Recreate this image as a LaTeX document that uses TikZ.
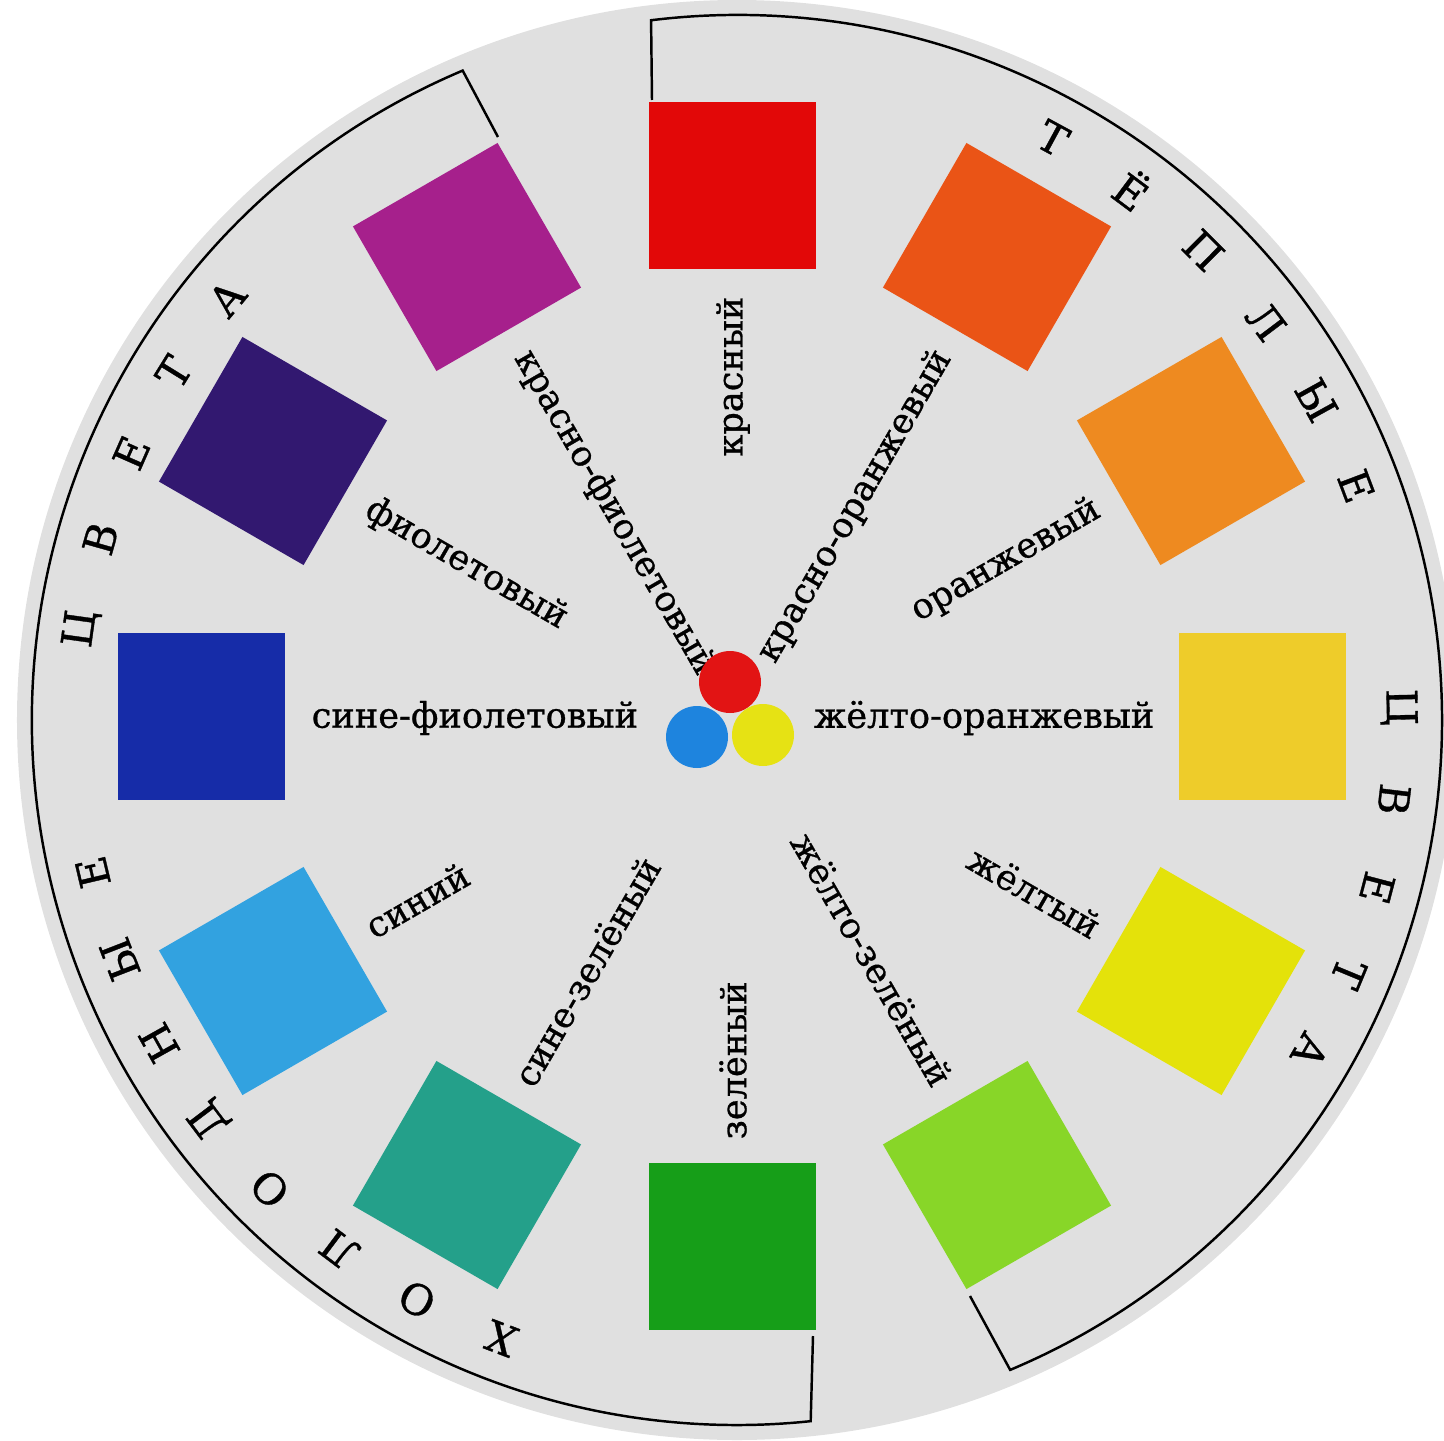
\documentclass[tikz,border=0pt]{standalone}
\usepackage{fontspec}
\setmainfont{DejaVu Serif}
\newfontfamily\heavyserif{DejaVu Serif}[FakeBold=0.8]
\usepackage{xcolor}

\definecolor{disk}{RGB}{224,224,224}
\definecolor{cRed}{RGB}{226,8,8}
\definecolor{cRedOrange}{RGB}{234,84,22}
\definecolor{cOrange}{RGB}{238,138,32}
\definecolor{cYellowOrange}{RGB}{238,204,42}
\definecolor{cYellow}{RGB}{228,226,10}
\definecolor{cYellowGreen}{RGB}{136,214,40}
\definecolor{cGreen}{RGB}{22,158,24}
\definecolor{cBlueGreen}{RGB}{36,160,138}
\definecolor{cBlue}{RGB}{50,162,224}
\definecolor{cBlueViolet}{RGB}{22,44,168}
\definecolor{cViolet}{RGB}{50,24,112}
\definecolor{cRedViolet}{RGB}{166,32,140}
\definecolor{dotRed}{RGB}{226,20,20}
\definecolor{dotBlue}{RGB}{30,132,222}
\definecolor{dotYellow}{RGB}{230,226,20}

\newcommand\labfont{\heavyserif\fontsize{10}{12}\selectfont}
\newcommand\ringfont{\heavyserif\fontsize{12}{14}\selectfont}

\begin{document}
\begin{tikzpicture}[
  swatch/.style={minimum size=1.67cm, inner sep=0pt, outer sep=0pt, rotate=#1},
  lab/.style={font=\labfont, inner sep=0pt},
  ring/.style={font=\ringfont, inner sep=0pt, rotate=#1-90},
  dot/.style={circle, minimum size=0.62cm, inner sep=0pt},
  bracket/.style={line width=0.7pt}
]
\useasboundingbox (-7.37,-7.20) rectangle (7.07,7.20);
\fill[disk] (0,0) circle (7.20);

% brackets
\draw[bracket] (-0.85,6.20) -- (97:7.05) arc[start angle=97, end angle=-67.2, radius=7.05] -- (2.33,-5.76);
\draw[bracket] (-2.39,5.83) -- (112.9:7.05) arc[start angle=112.9, end angle=276, radius=7.05] -- (0.76,-6.16);

% colour squares
\begin{scope}[shift={(-0.05,0.04)}]
\node[swatch=0, fill=cRed] (sqred) at (90:5.30) {};
\node[swatch=60, fill=cRedOrange] (sqredorange) at (60:5.30) {};
\node[swatch=30, fill=cOrange] (sqorange) at (30:5.30) {};
\node[swatch=0, fill=cYellowOrange] (sqyelloworange) at (0:5.30) {};
\node[swatch=-30, fill=cYellow] (sqyellow) at (-30:5.30) {};
\node[swatch=-60, fill=cYellowGreen] (sqyellowgreen) at (-60:5.30) {};
\node[swatch=0, fill=cGreen] (sqgreen) at (-90:5.30) {};
\node[swatch=60, fill=cBlueGreen] (sqbluegreen) at (-120:5.30) {};
\node[swatch=30, fill=cBlue] (sqblue) at (-150:5.30) {};
\node[swatch=0, fill=cBlueViolet] (sqblueviolet) at (180:5.30) {};
\node[swatch=-30, fill=cViolet] (sqviolet) at (150:5.30) {};
\node[swatch=-60, fill=cRedViolet] (sqredviolet) at (120:5.30) {};
\end{scope}

% names of the colours
\begin{scope}[shift={(-0.04,0.02)}]
\node[lab, rotate=90, anchor=east] (lred) at (90:4.22) {красный};
\node[lab, rotate=60, anchor=east] (lredorange) at (60:4.22) {красно-оранжевый};
\node[lab, rotate=30, anchor=east] (lorange) at (30:4.22) {оранжевый};
\node[lab, anchor=east] (lyelloworange) at (0:4.22) {жёлто-оранжевый};
\node[lab, rotate=-30, anchor=east] (lyellow) at (-30:4.22) {жёлтый};
\node[lab, rotate=-60, anchor=east] (lyellowgreen) at (-60:4.22) {жёлто-зелёный};
\node[lab, rotate=90, anchor=west] (lgreen) at (-90:4.22) {зелёный};
\node[lab, rotate=60, anchor=west] (lbluegreen) at (-120:4.22) {сине-зелёный};
\node[lab, rotate=30, anchor=west] (lblue) at (-150:4.22) {синий};
\node[lab, anchor=west] (lblueviolet) at (180:4.22) {сине-фиолетовый};
\node[lab, rotate=-30, anchor=west] (lviolet) at (150:4.22) {фиолетовый};
\node[lab, rotate=-60, anchor=west] (lredviolet) at (120:4.22) {красно-фиолетовый};
\end{scope}

% primary colours
\node[dot, fill=dotRed] (pred) at (-0.07,0.38) {};
\node[dot, fill=dotBlue] (pblue) at (-0.40,-0.17) {};
\node[dot, fill=dotYellow] (pyellow) at (0.26,-0.15) {};

% warm
\node[ring=61.5] (w1) at (61.5:6.62) {Т};
\node[ring=53.3] (w2) at (53.3:6.62) {Ё};
\node[ring=45.2] (w3) at (45.2:6.62) {П};
\node[ring=37.0] (w4) at (37.0:6.62) {Л};
\node[ring=28.9] (w5) at (28.9:6.62) {Ы};
\node[ring=20.7] (w6) at (20.7:6.62) {Е};
\node[ring=1.1] (w7) at (1.1:6.62) {Ц};
\node[ring=-6.9] (w8) at (-6.9:6.62) {В};
\node[ring=-14.7] (w9) at (-14.7:6.62) {Е};
\node[ring=-22.5] (w10) at (-22.5:6.62) {Т};
\node[ring=-30.0] (w11) at (-30.0:6.62) {А};

% cold
\node[ring=249.1] (c1) at (249.1:6.62) {Х};
\node[ring=241.1] (c2) at (241.1:6.62) {О};
\node[ring=233.1] (c3) at (233.1:6.62) {Л};
\node[ring=225.1] (c4) at (225.1:6.62) {О};
\node[ring=217.1] (c5) at (217.1:6.62) {Д};
\node[ring=209.2] (c6) at (209.2:6.62) {Н};
\node[ring=201.2] (c7) at (201.2:6.62) {Ы};
\node[ring=193.3] (c8) at (193.3:6.62) {Е};
\node[ring=172.1] (c9) at (172.1:6.62) {Ц};
\node[ring=164.1] (c10) at (164.1:6.62) {В};
\node[ring=156.2] (c11) at (156.2:6.62) {Е};
\node[ring=148.3] (c12) at (148.3:6.62) {Т};
\node[ring=140.4] (c13) at (140.4:6.62) {А};
\end{tikzpicture}
\end{document}
